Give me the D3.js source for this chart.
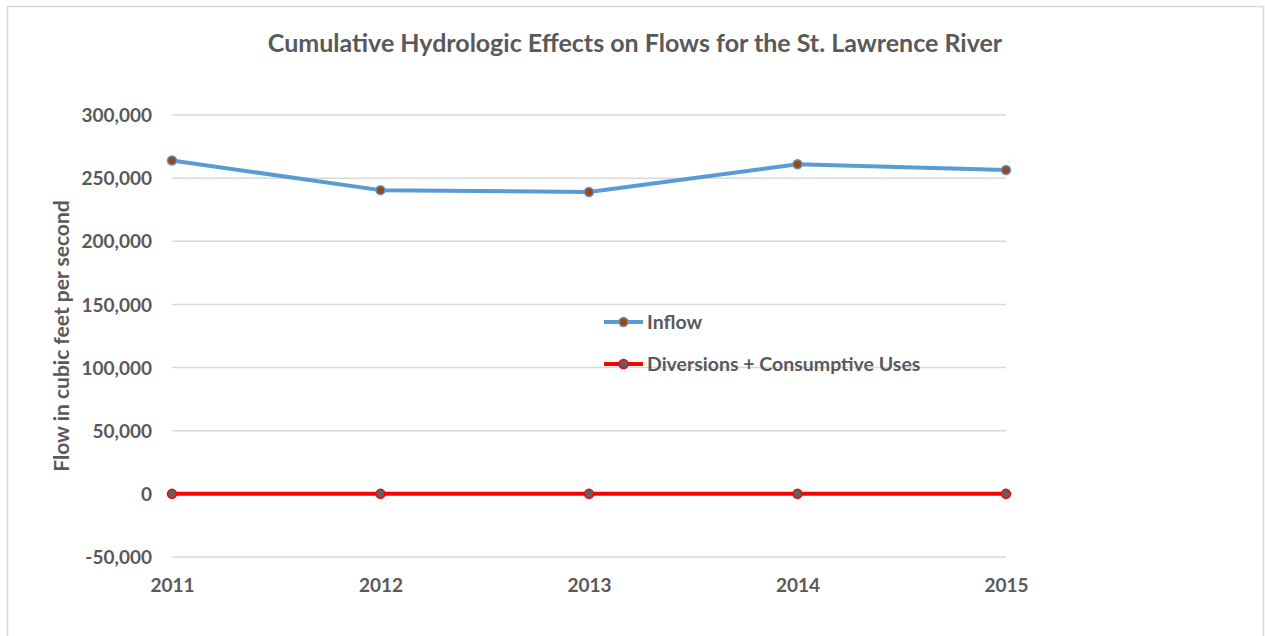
<!DOCTYPE html>
<html><head><meta charset="utf-8">
<script src="https://cdn.jsdelivr.net/npm/d3@7"></script>
<style>body{margin:0;background:#fff;} svg{display:block;}</style>
</head><body>
<svg id="c" width="1265" height="636"></svg>
<script>
const years = ["2011","2012","2013","2014","2015"];
const inflow = [264000, 240500, 239000, 261000, 256500];
const diversions = [0, 0, 0, 0, 0];
const yTicks = [-50000, 0, 50000, 100000, 150000, 200000, 250000, 300000];
const seriesNames = ["Inflow", "Diversions + Consumptive Uses"];

const svg = d3.select("#c");
const font = "Lato, 'Open Sans', sans-serif";
const grey = "#595959";

svg.append("rect").attr("x",7.5).attr("y",6.5).attr("width",1256).attr("height",640)
  .attr("fill","#fff").attr("stroke","#d9d9d9").attr("stroke-width",1.5);

const x = d3.scalePoint().domain(years).range([172, 1006]);
const y = d3.scaleLinear().domain([-50000, 300000]).range([557, 115]);

// gridlines
svg.append("g").selectAll("line").data(yTicks).join("line")
  .attr("x1",172).attr("x2",1006)
  .attr("y1",d=>y(d)).attr("y2",d=>y(d))
  .attr("stroke","#d9d9d9").attr("stroke-width",1.5);

// y axis labels
const fmt = d3.format(",");
const yAxis = d3.axisLeft(y).tickValues(yTicks).tickSize(0).tickPadding(0)
  .tickFormat(d => fmt(d).replace("\u2212","-"));
const yg = svg.append("g").attr("transform","translate(152,0)").call(yAxis);
yg.select(".domain").remove();
yg.selectAll("text").attr("font-family",font).attr("font-weight","bold")
  .attr("font-size",19).attr("fill",grey).attr("dy","0.35em");

// x axis labels
const xAxis = d3.axisBottom(x).tickSize(0).tickPadding(0);
const xg = svg.append("g").attr("transform","translate(0,585)").call(xAxis);
xg.select(".domain").remove();
xg.selectAll("text").attr("font-family",font).attr("font-weight","bold")
  .attr("font-size",19).attr("fill",grey).attr("dy","0.35em");

// title
svg.append("text").attr("x",635).attr("y",43).attr("dy","0.35em").attr("text-anchor","middle")
  .attr("font-family",font).attr("font-weight","bold").attr("font-size",25)
  .attr("fill",grey).text("Cumulative Hydrologic Effects on Flows for the St. Lawrence River");

// y title
svg.append("text").attr("transform","translate(62,336) rotate(-90)")
  .attr("text-anchor","middle").attr("dy","0.35em")
  .attr("font-family",font).attr("font-weight","bold").attr("font-size",21)
  .attr("fill",grey).text("Flow in cubic feet per second");

const line = d3.line().x((d,i)=>x(years[i])).y(d=>y(d));

const series = [
  {vals: inflow, stroke:"#5b9bd5", fill:"#9e480e"},
  {vals: diversions, stroke:"#ff0000", fill:"#606060"}
];

series.forEach(s=>{
  svg.append("path").datum(s.vals).attr("d",line).attr("fill","none")
    .attr("stroke",s.stroke).attr("stroke-width",4).attr("stroke-linejoin","round");
  svg.append("g").selectAll("circle").data(s.vals).join("circle")
    .attr("cx",(d,i)=>x(years[i])).attr("cy",d=>y(d)).attr("r",4.5)
    .attr("fill",s.fill).attr("stroke",s.stroke).attr("stroke-width",1.5);
});

// legend
const leg = svg.append("g");
const legY = [322, 364];
series.forEach((s,i)=>{
  leg.append("line").attr("x1",604).attr("x2",643).attr("y1",legY[i]).attr("y2",legY[i])
    .attr("stroke",s.stroke).attr("stroke-width",4);
  leg.append("circle").attr("cx",623.5).attr("cy",legY[i]).attr("r",4.5)
    .attr("fill",s.fill).attr("stroke",s.stroke).attr("stroke-width",1.5);
  leg.append("text").attr("x",647).attr("y",legY[i]).attr("dy","0.35em")
    .attr("font-family",font).attr("font-weight","bold").attr("font-size",19.5)
    .attr("fill",grey).text(seriesNames[i]);
});
</script>
</body></html>
